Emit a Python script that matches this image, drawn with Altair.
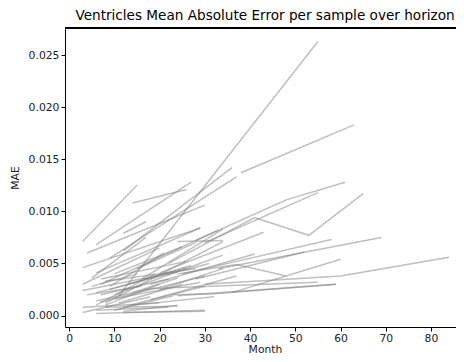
import altair as alt
import pandas as pd

# Each sample: months of the horizon and the MAE at each month
line_months = [
    [3, 15], [14, 26], [11, 55], [38, 63], [12, 36], [6, 27], [9, 37], [4, 30], [3, 29],
    [22, 41, 53, 65], [28, 48, 61], [30, 55], [20, 43], [25, 58], [33, 69], [30, 60, 84],
    [36, 60], [18, 55], [24, 59], [24, 37, 48], [28, 52], [18, 41],
    [6, 30], [12, 30], [8, 24], [6, 22], [3, 18], [3, 20], [3, 24], [3, 20], [5, 17],
    [6, 29], [7, 33], [8, 34], [10, 34], [6, 31], [12, 37], [7, 30], [10, 23], [12, 24],
    [8, 28], [9, 26], [14, 32], [16, 34], [15, 28], [10, 25], [5, 15], [13, 27], [18, 30],
    [6, 19], [11, 25], [7, 22], [9, 21], [20, 34], [24, 34], [23, 32, 59], [12, 17], [8, 20],
    [4, 16], [6, 18], [10, 29], [14, 24], [7, 26],
]
line_mae = [
    [0.0071, 0.0125], [0.0108, 0.0121], [0.0019, 0.0263], [0.0137, 0.0183], [0.0062, 0.0142],
    [0.0068, 0.0128], [0.0055, 0.0133], [0.0060, 0.0106], [0.0046, 0.0084],
    [0.0050, 0.0094, 0.0077, 0.0117], [0.0072, 0.0111, 0.0128], [0.0070, 0.0118],
    [0.0041, 0.0080], [0.0040, 0.0073], [0.0045, 0.0075], [0.0030, 0.0038, 0.0056],
    [0.0022, 0.0054], [0.0026, 0.0032], [0.0019, 0.0030], [0.0040, 0.0049, 0.0038],
    [0.0035, 0.0061], [0.0030, 0.0059],
    [0.0002, 0.0005], [0.0003, 0.0004], [0.0008, 0.0009], [0.0005, 0.0008], [0.0003, 0.0018],
    [0.0008, 0.0012], [0.0024, 0.0042], [0.0030, 0.0065], [0.0036, 0.0075],
    [0.0041, 0.0084], [0.0030, 0.0082], [0.0012, 0.0071], [0.0020, 0.0058], [0.0022, 0.0050],
    [0.0008, 0.0038], [0.0013, 0.0038], [0.0005, 0.0019], [0.0004, 0.0010],
    [0.0033, 0.0045], [0.0025, 0.0046], [0.0010, 0.0018], [0.0035, 0.0083], [0.0045, 0.0070],
    [0.0040, 0.0066], [0.0028, 0.0040], [0.0030, 0.0048], [0.0015, 0.0028],
    [0.0010, 0.0040], [0.0012, 0.0030], [0.0020, 0.0035], [0.0028, 0.0060], [0.0025, 0.0045],
    [0.0071, 0.0072], [0.0020, 0.0021, 0.0030], [0.0079, 0.0090], [0.0010, 0.0030],
    [0.0020, 0.0028], [0.0014, 0.0026], [0.0016, 0.0032], [0.0022, 0.0036], [0.0035, 0.0052],
]

x_ticks = [0, 10, 20, 30, 40, 50, 60, 70, 80]
y_ticks = [0.0, 0.005, 0.010, 0.015, 0.020, 0.025]

rows = []
for i, (ms, vs) in enumerate(zip(line_months, line_mae)):
    for m, v in zip(ms, vs):
        rows.append({"sample": i, "Month": m, "MAE": v})
df = pd.DataFrame(rows)

W, H = 391, 299

lines = alt.Chart(df).mark_line(color="#808080", opacity=0.5, strokeWidth=1.5, clip=True).encode(
    x=alt.X("Month:Q",
            scale=alt.Scale(domain=[-0.9, -0.9 + W / 4.524], nice=False, zero=False),
            axis=alt.Axis(values=x_ticks, format="d", title="Month", titleX=200,
                          titleY=25, titleBaseline="alphabetic", labelPadding=1)),
    y=alt.Y("MAE:Q",
            scale=alt.Scale(domain=[-0.0011, 0.0276], nice=False, zero=False),
            axis=alt.Axis(values=y_ticks, format=".3f", title="MAE")),
    detail="sample:N",
    order="Month:Q",
)

# top edge of the axes frame (the right edge lies beyond the picture)
frame_top = alt.Chart(df).mark_rule(color="black", strokeWidth=1).encode(
    x=alt.value(0), x2=alt.value(W), y=alt.value(0)
)

chart = alt.layer(lines, frame_top).properties(
    width=W, height=H,
    title=alt.TitleParams("Ventricles Mean Absolute Error per sample over horizon",
                          font="DejaVu Sans", fontSize=13.6, fontWeight="normal",
                          color="black", offset=5, anchor="middle", dx=4.5),
    autosize=alt.AutoSizeParams(type="none"),
    padding={"left": 57, "top": 20, "right": 0, "bottom": 27},
).configure_view(
    stroke=None
).configure_axis(
    grid=False, domain=True, domainColor="black", domainWidth=1,
    tickColor="black", tickSize=4, tickWidth=1,
    labelFont="DejaVu Sans", labelFontSize=10.8, labelColor="#222222", labelPadding=2,
    titleFont="DejaVu Sans", titleFontSize=10.8, titleFontWeight="normal", titleColor="#222222",
).configure_axisY(titlePadding=8)

chart.save("out.html", embed_options={"renderer": "svg", "actions": False})
